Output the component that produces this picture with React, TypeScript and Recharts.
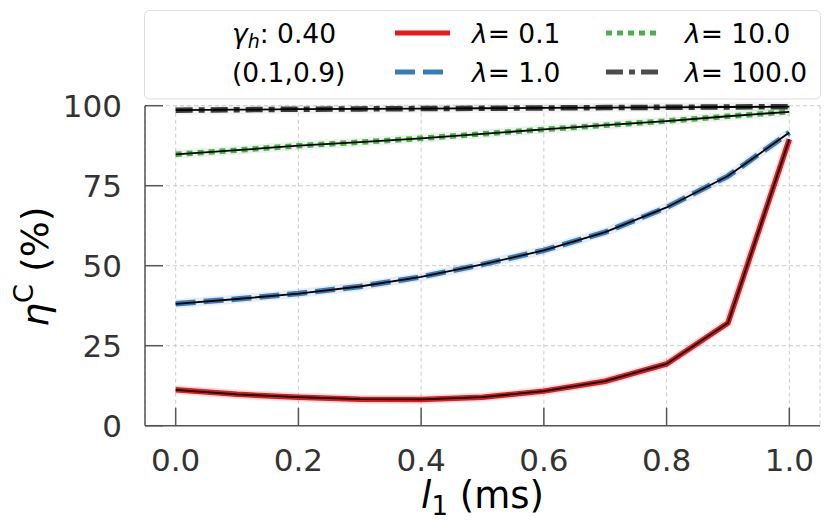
import React from 'react';
import { LineChart, Line, XAxis, YAxis, CartesianGrid, Legend } from 'recharts';

// ---- data ----
const lValues = [0.0, 0.1, 0.2, 0.3, 0.4, 0.5, 0.6, 0.7, 0.8, 0.9, 1.0];
const etaLambda01 = [11.2, 9.8, 8.9, 8.3, 8.2, 8.9, 10.8, 13.9, 19.3, 32.1, 89.5];
const etaLambda1 = [38.1, 39.6, 41.3, 43.5, 46.5, 50.4, 54.8, 60.5, 68.2, 78.0, 91.6];
const etaLambda10 = [84.8, 86.1, 87.5, 88.6, 89.8, 91.2, 92.6, 93.9, 95.2, 96.7, 98.1];
const etaLambda100 = [98.6, 98.75, 98.9, 99.0, 99.1, 99.2, 99.3, 99.4, 99.5, 99.6, 99.7];

const xTicks = [0.0, 0.2, 0.4, 0.6, 0.8, 1.0];
const yTicks = [0, 25, 50, 75, 100];

const seriesKeys = ['l01', 'l1', 'l10', 'l100'];
const seriesLabels = ['0.1', '1.0', '10.0', '100.0'];
const seriesColors = ['#e41a1c', '#377eb8', '#4daf4a', '#3a3a3a'];
const legendColors = ['#e41a1c', '#377eb8', '#4daf4a', '#4d4d4d'];
const seriesDashes = ['', '20 8', '6 5', '17 6 6 6'];
const seriesHalo = ['#e41a1c', '#377eb8', '#4daf4a', '#9a9a9a'];

const data = lValues.map((l, i) => ({
  l,
  l01: etaLambda01[i],
  l1: etaLambda1[i],
  l10: etaLambda10[i],
  l100: etaLambda100[i],
}));

const FONT = 'DejaVu Sans';
const SPINE = '#555555';
const TICKTEXT = '#333333';
const LEGEND_FS = 26.5;

const XTick = (props: any) => {
  const { x, y, payload } = props;
  return (
    <g>
      <line x1={x} x2={x} y1={y} y2={y - 18} stroke={SPINE} strokeWidth={1.5} />
      <text x={x} y={y + 45} textAnchor="middle" fill={TICKTEXT} fontSize={31} fontFamily={FONT}>
        {Number(payload.value).toFixed(1)}
      </text>
    </g>
  );
};

const YTick = (props: any) => {
  const { x, y, payload } = props;
  return (
    <g>
      <line x1={x} x2={x + 18} y1={y} y2={y} stroke={SPINE} strokeWidth={1.5} />
      <text x={x - 23} y={y + 11.5} textAnchor="end" fill={TICKTEXT} fontSize={31} fontFamily={FONT}>
        {String(payload.value)}
      </text>
    </g>
  );
};

const YLabel = (props: any) => {
  const vb = props.viewBox || { x: 0, y: 105.7, width: 145, height: 320 };
  const cy = vb.y + vb.height / 2 + 1;
  return (
    <g transform={`translate(48, ${cy}) rotate(-90)`}>
      <text x={0} y={0} textAnchor="middle" fill="#000" fontSize={38} fontFamily={FONT}>
        <tspan fontStyle="italic">η</tspan>
        <tspan fontSize={27} dy={-15}>C</tspan>
        <tspan dy={15}> (%)</tspan>
      </text>
    </g>
  );
};

const XLabel = (props: any) => {
  const vb = props.viewBox || { x: 145, y: 425.7, width: 675, height: 106 };
  const cx = vb.x + vb.width / 2;
  return (
    <text x={cx} y={508} textAnchor="middle" fill="#000" fontSize={37} fontFamily={FONT}>
      <tspan fontStyle="italic">l</tspan>
      <tspan fontSize={26} dy={7}>1</tspan>
      <tspan dy={-7}> (ms)</tspan>
    </text>
  );
};

// legend layout
const legendCols = [
  { hx: 395, tx: 472 },
  { hx: 606, tx: 685 },
];
const legendRows = [33, 72];

const renderLegend = () => (
  <svg width={831} height={110} style={{ display: 'block' }}>
    <rect x={144.5} y={10.5} width={676} height={88.5} rx={5} ry={5} fill="#ffffff" fillOpacity={0.85} stroke="#dcdcdc" strokeWidth={1} />
    <text x={232} y={legendRows[0] + 9.5} fontSize={LEGEND_FS} fontFamily={FONT} fill="#000">
      <tspan fontStyle="italic">γ</tspan>
      <tspan fontStyle="italic" fontSize={19} dy={5}>h</tspan>
      <tspan dy={-5}>: 0.40</tspan>
    </text>
    <text x={232} y={legendRows[1] + 9.5} fontSize={LEGEND_FS} fontFamily={FONT} fill="#000">
      (0.1,0.9)
    </text>
    {seriesKeys.map((k, i) => {
      const col = legendCols[Math.floor(i / 2)];
      const ry = legendRows[i % 2];
      return (
        <g key={k}>
          <line
            x1={col.hx}
            x2={col.hx + 55}
            y1={ry}
            y2={ry}
            stroke={legendColors[i]}
            strokeWidth={5}
            strokeDasharray={seriesDashes[i] || undefined}
          />
          <text x={col.tx} y={ry + 9.5} fontSize={LEGEND_FS} fontFamily={FONT} fill="#000">
            <tspan fontStyle="italic">λ</tspan>
            <tspan>= {seriesLabels[i]}</tspan>
          </text>
        </g>
      );
    })}
  </svg>
);

export default function App() {
  return (
    <div style={{ position: 'absolute', left: 0, top: 0, width: 831, height: 532, background: '#ffffff' }}>
      <LineChart width={831} height={532} data={data} margin={{ top: 105.7, right: 11, bottom: 0, left: 0 }}>
        <CartesianGrid stroke="#cccccc" strokeDasharray="4 3" strokeWidth={1} />
        <XAxis
          dataKey="l"
          type="number"
          domain={[-0.05, 1.05]}
          ticks={xTicks}
          tickSize={0}
          tickMargin={0}
          tickLine={false}
          tick={<XTick />}
          height={106.3}
          axisLine={{ stroke: SPINE, strokeWidth: 1.5 }}
          label={<XLabel />}
          interval={0}
        />
        <YAxis
          type="number"
          domain={[0, 100]}
          ticks={yTicks}
          tickSize={0}
          tickMargin={0}
          tickLine={false}
          tick={<YTick />}
          width={145}
          axisLine={{ stroke: SPINE, strokeWidth: 1.5 }}
          label={<YLabel />}
          interval={0}
        />
        <Legend
          layout="vertical"
          align="center"
          verticalAlign="middle"
          content={renderLegend}
          wrapperStyle={{ left: 0, top: 0, width: 831, height: 110 }}
        />
        {seriesKeys.map((k, i) => (
          <Line
            key={k + '-halo'}
            dataKey={k}
            type="linear"
            stroke={seriesHalo[i]}
            strokeOpacity={0.13}
            strokeWidth={9}
            dot={false}
            activeDot={false}
            legendType="none"
            isAnimationActive={false}
          />
        ))}
        {seriesKeys.map((k, i) => (
          <Line
            key={k + '-main'}
            dataKey={k}
            type="linear"
            stroke={seriesColors[i]}
            strokeWidth={5.5}
            strokeDasharray={seriesDashes[i] || undefined}
            dot={false}
            activeDot={false}
            isAnimationActive={false}
          />
        ))}
        {seriesKeys.map((k, i) => (
          <Line
            key={k + '-fit'}
            dataKey={k}
            type="linear"
            stroke="#000000"
            strokeWidth={1.8}
            dot={false}
            activeDot={false}
            legendType="none"
            isAnimationActive={false}
          />
        ))}
      </LineChart>
    </div>
  );
}
